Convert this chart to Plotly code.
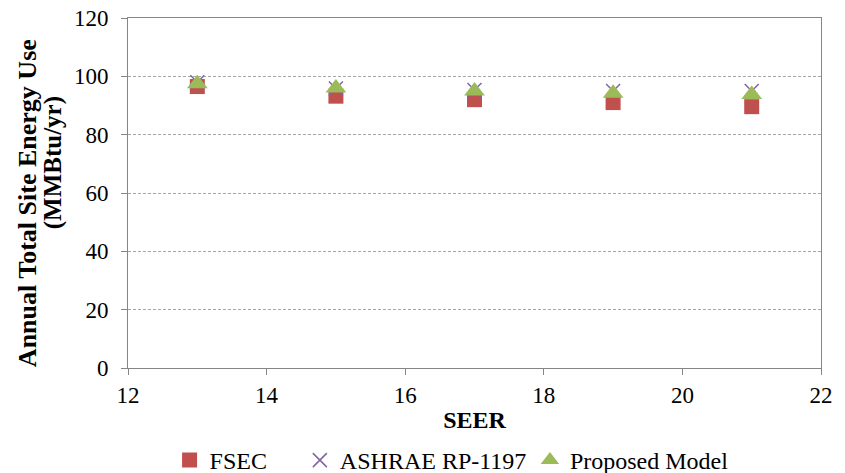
import plotly.graph_objects as go

seer = [13, 15, 17, 19, 21]
fsec = [96.5, 93.2, 92.0, 91.0, 89.6]
ashrae = [98.0, 95.8, 95.3, 95.0, 95.0]
proposed = [97.5, 96.0, 95.0, 94.2, 93.8]

y_title_lines = ["Annual Total Site Energy Use", "(MMBtu/yr)"]
x_title = "SEER"

font_family = "Liberation Serif"

fig = go.Figure()
fig.add_trace(go.Scatter(x=seer, y=fsec, mode="markers", name="FSEC", legend="legend",
                         marker=dict(symbol="square", size=15, color="#C0504D")))
fig.add_trace(go.Scatter(x=seer, y=ashrae, mode="markers", name="ASHRAE RP-1197", legend="legend2",
                         marker=dict(symbol="x-thin", size=14, color="#8064A2",
                                     line=dict(width=1.5, color="#8064A2"))))
fig.add_trace(go.Scatter(x=seer, y=proposed, mode="markers", name="Proposed Model", legend="legend3",
                         marker=dict(symbol="triangle-up", size=18, color="#9BBB59")))

leg_common = dict(orientation="h", y=-0.2, yanchor="top", xanchor="left",
                  font=dict(family=font_family, size=24, color="black"),
                  itemwidth=30, bgcolor="rgba(0,0,0,0)", borderwidth=0)

tick_font = dict(family=font_family, size=23, color="black")
title_font = dict(family=font_family, size=25, color="black")

fig.update_layout(
    width=845, height=473,
    margin=dict(l=128, r=24, t=18, b=105, autoexpand=False),
    paper_bgcolor="white", plot_bgcolor="white",
    font=dict(family=font_family, size=22, color="black"),
    showlegend=True,
    legend=dict(x=0.06, **leg_common),
    legend2=dict(x=0.248, **leg_common),
    legend3=dict(x=0.58, **leg_common),
    xaxis=dict(range=[12, 22], dtick=2, tick0=12, showgrid=False,
               showline=True, linecolor="#868686", linewidth=1, mirror=True,
               ticks="outside", ticklen=6, tickcolor="#868686",
               tickfont=tick_font, automargin=False,
               title=dict(text="<b>" + x_title + "</b>", standoff=4,
                          font=dict(family=font_family, size=24, color="black")),
               zeroline=False),
    yaxis=dict(range=[0, 120], dtick=20, showgrid=True, gridcolor="#A6A6A6",
               griddash="3px,2px", gridwidth=1,
               showline=True, linecolor="#868686", linewidth=1, mirror=True,
               ticks="outside", ticklen=6, tickcolor="#868686",
               tickfont=tick_font, automargin=False, ticklabelstandoff=8,
               zeroline=False),
    annotations=[
        dict(text="<b>" + y_title_lines[0] + "</b>", textangle=-90,
             xref="paper", yref="paper", x=0, y=0.471, xshift=-101,
             xanchor="center", yanchor="middle", showarrow=False,
             font=dict(family=font_family, size=26, color="black")),
        dict(text="<b>" + y_title_lines[1] + "</b>", textangle=-90,
             xref="paper", yref="paper", x=0, y=0.585, xshift=-75,
             xanchor="center", yanchor="middle", showarrow=False, font=title_font),
    ],
)

fig.write_html("out.html", config={"displayModeBar": False},
               post_script="document.body.style.margin='0px';document.body.style.overflow='hidden';")
